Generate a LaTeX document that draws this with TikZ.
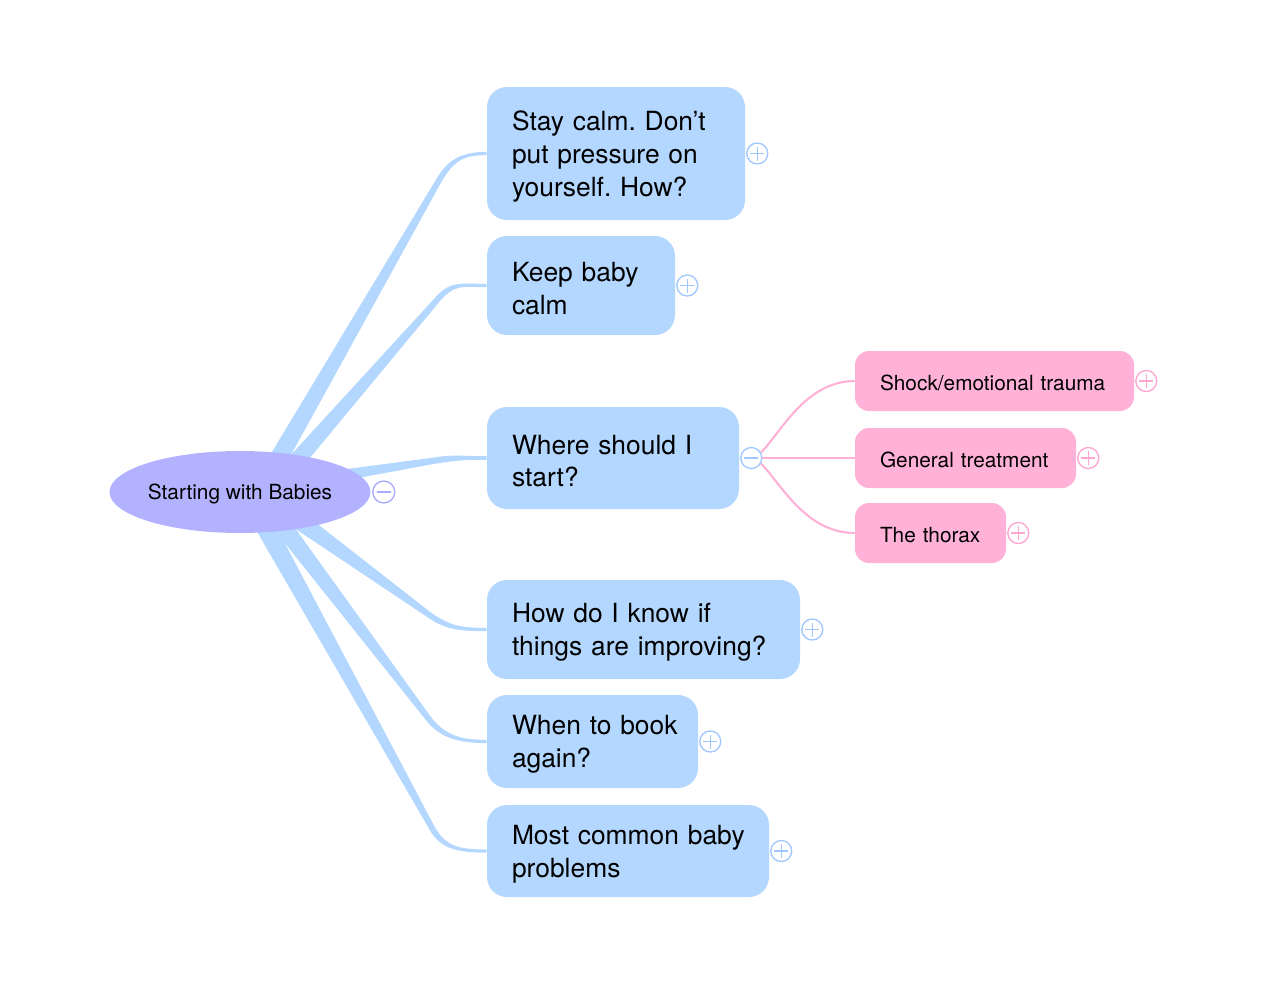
\documentclass[tikz,border=0pt]{standalone}
\usepackage{fontspec}
\setmainfont{TeX Gyre Heros}
\usetikzlibrary{calc,shapes.geometric}
\pgfdeclarelayer{background}
\pgfsetlayers{background,main}
\frenchspacing
\definecolor{mmblue}{RGB}{179,215,255}
\definecolor{mmblueicon}{RGB}{160,200,255}
\definecolor{mmpink}{RGB}{255,177,216}
\definecolor{mmpinkicon}{RGB}{255,165,210}
\definecolor{mmroot}{RGB}{178,178,255}
\definecolor{mmrooticon}{RGB}{170,170,255}
\newcommand\mmstrut{\rule{0pt}{19pt}}
\newcommand\mmbranch[6]{%
  \coordinate (bS) at (#1);
  \coordinate (bP) at (#2);
  \coordinate (bE) at (#3);
  \coordinate (bC1) at ($(bP)!-18pt!(bS)$);
  \coordinate (bC2) at ($(bE)+(-26,0)$);
  \fill[mmblue] ($(bS)!#4!90:(bP)$) -- ($(bP)!#5!-90:(bS)$)
    .. controls ($(bC1)!#5!-90:(bS)$) and ($(bC2)+(0,-#6)$) .. ($(bE)+(0,-#6)$)
    -- ($(bE)+(0,#6)$)
    .. controls ($(bC2)+(0,#6)$) and ($(bC1)!#5!90:(bS)$) .. ($(bP)!#5!90:(bS)$)
    -- ($(bS)!#4!-90:(bP)$) -- cycle;
}
\tikzset{
  bluebox/.style={rectangle, rounded corners=15pt, fill=mmblue, inner xsep=18.75pt, inner ysep=0pt,
    align=left, font=\fontsize{19.8pt}{24.6pt}\selectfont},
  pinkbox/.style={rectangle, rounded corners=10.5pt, fill=mmpink, inner xsep=18.75pt, inner ysep=0pt,
    align=left, minimum height=45pt, font=\fontsize{15.6pt}{19pt}\selectfont},
  rootnode/.style={ellipse, fill=mmroot, minimum width=195.75pt, minimum height=61.5pt, inner sep=0pt,
    font=\fontsize{15.6pt}{19pt}\selectfont},
  iconbase/.style={circle, draw=#1, fill=white, line width=1pt, minimum size=15.75pt, inner sep=0pt},
  plusicon/.style={iconbase=#1, path picture={\draw[#1,line width=1pt]
    ($(path picture bounding box.center)+(-7,0)$) -- ($(path picture bounding box.center)+(7,0)$)
    ($(path picture bounding box.center)+(0,-7)$) -- ($(path picture bounding box.center)+(0,7)$);}},
  minusicon/.style={iconbase=#1, path picture={\draw[#1,line width=1pt]
    ($(path picture bounding box.center)+(-7,0)$) -- ($(path picture bounding box.center)+(7,0)$);}},
  pinkline/.style={draw=mmpink, line width=1.6pt},
}
\begin{document}
\begin{tikzpicture}[x=0.75pt,y=-0.75pt]
\useasboundingbox (0,0) rectangle (1272,1000);

% root
\node[rootnode] (root) at (240,492) {\rule{0pt}{14pt}Starting with Babies};
\node[minusicon=mmrooticon, minimum size=16.5pt] (rooticon) at ($(root.east)+(13,0)$) {};

% main topics
\node[bluebox, text width=156pt, minimum height=99.75pt] (n1) at (616,153.5)
  {\mmstrut\mbox{Stay calm. Don’t}\\\mbox{put pressure on}\\\mbox{yourself. How?}};
\node[bluebox, text width=103.5pt, minimum height=74.25pt] (n2) at (581,285.5)
  {\mmstrut\mbox{Keep baby}\\\mbox{calm}};
\node[bluebox, text width=151.5pt, minimum height=76.5pt] (n3) at (613,458)
  {\mmstrut\mbox{Where should I}\\\mbox{start?}};
\node[bluebox, text width=197.25pt, minimum height=74.25pt] (n4) at (643.5,629.5)
  {\mmstrut\mbox{How do I know if}\\\mbox{things are improving?}};
\node[bluebox, text width=120.75pt, minimum height=69.75pt] (n5) at (592.5,741.5)
  {\mmstrut\mbox{When to book}\\\mbox{again?}};
\node[bluebox, text width=174pt, minimum height=69pt] (n6) at (628,851)
  {\mmstrut\mbox{Most common baby}\\\mbox{problems}};

% subtopics
\node[pinkbox, text width=171.75pt] (p1) at (994.5,381) {\rule{0pt}{14pt}\mbox{Shock/emotional trauma}};
\node[pinkbox, text width=128.25pt] (p2) at (965.5,458) {\rule{0pt}{14pt}\mbox{General treatment}};
\node[pinkbox, text width=75.75pt] (p3) at (930.5,533) {\rule{0pt}{14pt}\mbox{The thorax}};

% icons
\node[plusicon=mmblueicon] (i1) at ($(n1.east)+(12,0)$) {};
\node[plusicon=mmblueicon] (i2) at ($(n2.east)+(12,0)$) {};
\node[minusicon=mmblueicon] (i3) at ($(n3.east)+(12,0)$) {};
\node[plusicon=mmblueicon] (i4) at ($(n4.east)+(12,0)$) {};
\node[plusicon=mmblueicon] (i5) at ($(n5.east)+(12,0)$) {};
\node[plusicon=mmblueicon] (i6) at ($(n6.east)+(12,0)$) {};
\node[plusicon=mmpinkicon] (j1) at ($(p1.east)+(12,0)$) {};
\node[plusicon=mmpinkicon] (j2) at ($(p2.east)+(12,0)$) {};
\node[plusicon=mmpinkicon] (j3) at ($(p3.east)+(12,0)$) {};

% connectors
\begin{pgfonlayer}{background}
\mmbranch{272,470}{438,182}{n1.west}{7pt}{2.2pt}{1.6}
\mmbranch{287,472}{437,300}{n2.west}{6.5pt}{2.2pt}{1.6}
\mmbranch{300,482}{432,461}{n3.west}{5pt}{2.4pt}{1.8}
\mmbranch{287,512}{428,614}{n4.west}{7pt}{2.2pt}{1.6}
\mmbranch{272,512}{428,718}{n5.west}{7pt}{2.2pt}{1.6}
\mmbranch{256,510}{432,828}{n6.west}{7.5pt}{2.2pt}{1.6}
\draw[pinkline] (i3.30) .. controls (780,434) and (805,381) .. (p1.west);
\draw[pinkline] (i3.east) -- (p2.west);
\draw[pinkline] (i3.-30) .. controls (780,482) and (805,533) .. (p3.west);
\end{pgfonlayer}
\end{tikzpicture}
\end{document}
